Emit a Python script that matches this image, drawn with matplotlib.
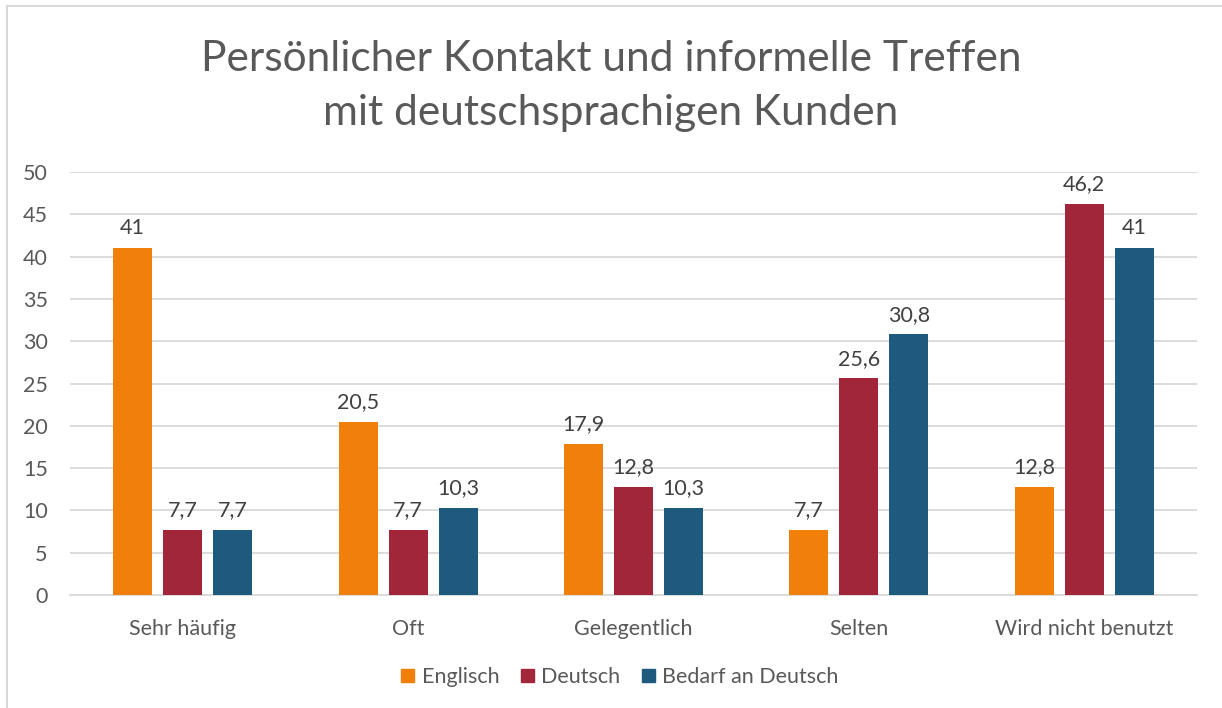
import matplotlib
matplotlib.use("Agg")
import matplotlib.pyplot as plt
import numpy as np
from matplotlib.lines import Line2D

categories = ["Sehr häufig", "Oft", "Gelegentlich", "Selten", "Wird nicht benutzt"]
series_names = ["Englisch", "Deutsch", "Bedarf an Deutsch"]
englisch = [41, 20.5, 17.9, 7.7, 12.8]
deutsch = [7.7, 7.7, 12.8, 25.6, 46.2]
bedarf = [7.7, 10.3, 10.3, 30.8, 41]
colors = ["#F0800A", "#A22639", "#1D5A7E"]
yticks = [0, 5, 10, 15, 20, 25, 30, 35, 40, 45, 50]
title = "Persönlicher Kontakt und informelle Treffen\nmit deutschsprachigen Kunden"

plt.rcParams['font.family'] = ['Lato', 'DejaVu Sans']
txt = "#595959"
fs = 15.5

fig = plt.figure(figsize=(12.22, 7.08), dpi=100)
ax = fig.add_axes([70/1222, 1-595/708, (1197-70)/1222, (595-172)/708])

x = np.arange(len(categories))
w = 0.173
step = 0.222
for i, (vals, c) in enumerate(zip([englisch, deutsch, bedarf], colors)):
    pos = x + (i - 1) * step
    ax.bar(pos, vals, width=w, color=c, zorder=3)
    for p, v in zip(pos, vals):
        lab = (f"{v:g}").replace(".", ",")
        ax.annotate(lab, (p, v), xytext=(0, 7), textcoords="offset points",
                    ha="center", va="bottom", fontsize=fs, color="#404040")

ax.set_xlim(-0.5, len(categories) - 0.5)
ax.set_ylim(0, 50)
ax.set_yticks(yticks)
ax.set_xticks(x)
ax.set_xticklabels(categories)
ax.grid(axis="y", color="#D9D9D9", linewidth=1.3, zorder=0)
for s in ["top", "right", "left"]:
    ax.spines[s].set_visible(False)
ax.spines["bottom"].set_color("#D9D9D9")
ax.spines["bottom"].set_linewidth(1.3)
ax.tick_params(axis="both", length=0, labelsize=fs, labelcolor=txt)
ax.tick_params(axis="y", pad=16)
ax.tick_params(axis="x", pad=17)

fig.text(0.5, 1-86/708, title, ha="center", va="center", fontsize=30.6,
         color=txt, linespacing=1.5)

handles = [plt.Rectangle((0, 0), 1, 1, color=c) for c in colors]
fig.legend(handles, series_names, loc="center", bbox_to_anchor=(0.5 + 9/1222, 1-677/708),
           ncol=3, frameon=False, fontsize=fs, labelcolor=txt,
           handlelength=0.6, handleheight=0.6, handletextpad=0.35, columnspacing=1.0)

fig.add_artist(Line2D([7.5/1222, 7.5/1222], [0, 1-6/708], transform=fig.transFigure,
                      color="#D9D9D9", linewidth=1.5))
fig.add_artist(Line2D([7.5/1222, 1], [1-6/708, 1-6/708], transform=fig.transFigure,
                      color="#D9D9D9", linewidth=1.5))

fig.savefig("out.png", dpi=100)
